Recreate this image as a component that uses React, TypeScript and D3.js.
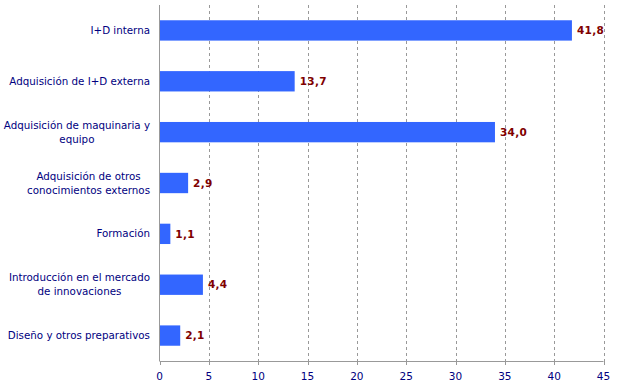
import React, { useEffect, useRef } from "react";
import * as d3 from "d3";

const categories: string[][] = [
  ["I+D interna"],
  ["Adquisición de I+D externa"],
  ["Adquisición de maquinaria y", "equipo"],
  ["Adquisición de otros", "conocimientos externos"],
  ["Formación"],
  ["Introducción en el mercado", "de innovaciones"],
  ["Diseño y otros preparativos"],
];
const values: number[] = [41.8, 13.7, 34.0, 2.9, 1.1, 4.4, 2.1];
const valueLabels: string[] = ["41,8", "13,7", "34,0", "2,9", "1,1", "4,4", "2,1"];
const ticks: number[] = [0, 5, 10, 15, 20, 25, 30, 35, 40, 45];

const W = 627;
const H = 390;
const FONT = "Verdana, 'DejaVu Sans', sans-serif";

export default function App() {
  const ref = useRef<SVGSVGElement | null>(null);

  useEffect(() => {
    const svg = d3.select(ref.current);
    svg.selectAll("*").remove();
    const left = 159.5;
    const right = 603.5;
    const top = 5;
    const bottom = 361;

    const x = d3.scaleLinear().domain([0, 45]).range([left, right]);
    const y = d3
      .scaleBand<number>()
      .domain(d3.range(categories.length))
      .range([top, bottom])
      .paddingInner(0.6)
      .paddingOuter(0.3);

    // grid
    svg
      .append("g")
      .selectAll("line")
      .data(ticks.filter((t) => t > 0))
      .join("line")
      .attr("x1", (d) => Math.round(x(d)) + 0.5)
      .attr("x2", (d) => Math.round(x(d)) + 0.5)
      .attr("y1", top)
      .attr("y2", bottom)
      .attr("stroke", "#999999")
      .attr("stroke-dasharray", "3,3");

    // bars
    svg
      .append("g")
      .selectAll("rect")
      .data(values)
      .join("rect")
      .attr("x", left)
      .attr("y", (_, i) => y(i)!)
      .attr("width", (d) => x(d) - left)
      .attr("height", y.bandwidth())
      .attr("fill", "#3366ff");

    // axes lines
    svg
      .append("line")
      .attr("x1", left)
      .attr("x2", left)
      .attr("y1", top)
      .attr("y2", bottom)
      .attr("stroke", "#999999");
    svg
      .append("line")
      .attr("x1", left)
      .attr("x2", right)
      .attr("y1", bottom + 0.5)
      .attr("y2", bottom + 0.5)
      .attr("stroke", "#999999");

    // ticks
    const tg = svg.append("g");
    tg.selectAll("line")
      .data(ticks)
      .join("line")
      .attr("x1", (d) => Math.round(x(d)) + 0.5)
      .attr("x2", (d) => Math.round(x(d)) + 0.5)
      .attr("y1", bottom)
      .attr("y2", bottom + 4)
      .attr("stroke", "#999999");
    tg.selectAll("text")
      .data(ticks)
      .join("text")
      .attr("x", (d) => x(d))
      .attr("y", bottom + 19)
      .attr("text-anchor", "middle")
      .attr("font-family", FONT)
      .attr("font-size", "10.5px")
      .attr("fill", "#000080")
      .text((d) => String(d));

    // category labels
    const labelRight = 150;
    const lg = svg.append("g");
    categories.forEach((lines, i) => {
      const cy = y(i)! + y.bandwidth() / 2;
      const g = lg.append("g");
      const texts = lines.map((line, j) =>
        g
          .append("text")
          .attr("y", cy + (j - (lines.length - 1) / 2) * 14)
          .attr("dy", "0.35em")
          .attr("font-family", FONT)
          .attr("font-size", "10.3px")
          .attr("fill", "#000080")
          .attr("text-anchor", "middle")
          .text(line)
      );
      const widths = texts.map((t) => (t.node() as SVGTextElement).getComputedTextLength());
      const maxW = Math.max(...widths);
      texts.forEach((t) => t.attr("x", labelRight - maxW / 2));
    });

    // value labels
    svg
      .append("g")
      .selectAll("text")
      .data(values)
      .join("text")
      .attr("x", (d) => x(d) + 5)
      .attr("y", (_, i) => y(i)! + y.bandwidth() / 2)
      .attr("dy", "0.35em")
      .attr("font-family", FONT)
      .attr("font-size", "10.5px")
      .attr("font-weight", "bold")
      .attr("letter-spacing", "0.3px")
      .attr("fill", "#800000")
      .text((_, i) => valueLabels[i]);
  }, []);

  return (
    <svg
      ref={ref}
      width={W}
      height={H}
      style={{ position: "absolute", left: 0, top: 0, background: "#ffffff" }}
    />
  );
}
